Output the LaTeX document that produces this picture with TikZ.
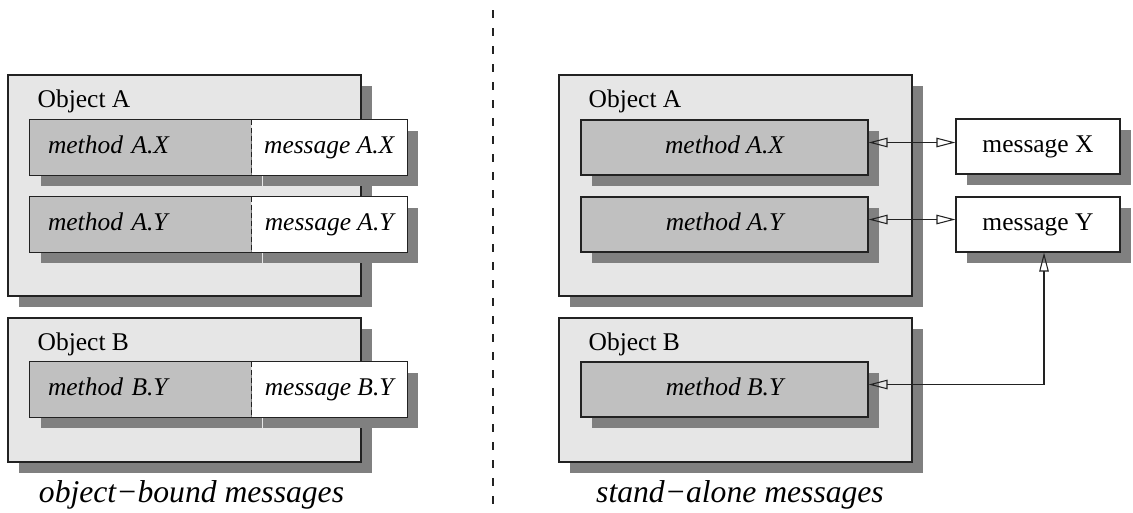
\documentclass[tikz,border=0pt]{standalone}
\usepackage{fontspec}
\setmainfont{Liberation Serif}
\usepackage{xcolor}
\usepackage{tikz}
\usetikzlibrary{calc}
\usetikzlibrary {arrows.meta}
\usetikzlibrary {shadows,positioning}
\definecolor{G0}{HTML}{E6E6E6}
\definecolor{G1}{HTML}{C0C0C0}
\definecolor{G2}{HTML}{808080}
\definecolor{G3}{HTML}{222222}
\newcommand\boxfont{\fontsize{14.5}{17}\selectfont}
\newcommand\capfont{\fontsize{18}{21}\selectfont}
\tikzset{
  dropsh/.style={drop shadow={shadow xshift=0.22cm, shadow yshift=-0.22cm, fill=G2, opacity=1}},
  boxtext/.style={text height=10pt, text depth=3pt},
  objbox/.style={dropsh, draw=G3, fill=G0, line width=0.6pt, minimum width=7.06cm, inner sep=0pt},
  methleft/.style={dropsh, boxtext, fill=G1, minimum height=1.1cm, text width=3.7cm, inner xsep=0.36cm, inner ysep=0pt, align=left, font=\boxfont\itshape},
  msgleft/.style={dropsh, boxtext, fill=white, minimum height=1.1cm, minimum width=3.1cm, inner sep=0pt, font=\boxfont\itshape},
  methright/.style={dropsh, boxtext, draw=G3, fill=G1, line width=0.6pt, minimum height=1.1cm, minimum width=5.74cm, inner sep=0pt, font=\boxfont\itshape},
  msgright/.style={dropsh, boxtext, draw=G3, fill=white, line width=0.6pt, minimum height=1.1cm, minimum width=3.28cm, inner sep=0pt, font=\boxfont},
  tips/.style={{Triangle[open,length=0.38cm,width=0.19cm]}-{Triangle[open,length=0.38cm,width=0.19cm]}, line width=0.6pt, G3},
}

\begin{document}
\begin{tikzpicture}
\useasboundingbox (0,0) rectangle (22.66,-10.24);
%
% left half: every object carries its own messages
\node[objbox, minimum height=4.42cm] (objAL) at (3.69,-3.71) {};
\node[anchor=base west, font=\boxfont] (lblAL) at ($(objAL.north west)+(0.48,-0.66)$) {Object A};
\node[methleft] (lmAX) at (2.81,-2.95) {method A.X};
\node[msgleft, right=0pt of lmAX] (lgAX) {message A.X};
\draw[G3, line width=0.6pt] (lmAX.north west) rectangle (lgAX.south east);
\draw[G3, line width=0.6pt, dash pattern=on 0.1cm off 0.06cm] (lgAX.north west) -- (lgAX.south west);
\node[methleft] (lmAY) at (2.81,-4.49) {method A.Y};
\node[msgleft, right=0pt of lmAY] (lgAY) {message A.Y};
\draw[G3, line width=0.6pt] (lmAY.north west) rectangle (lgAY.south east);
\draw[G3, line width=0.6pt, dash pattern=on 0.1cm off 0.06cm] (lgAY.north west) -- (lgAY.south west);
%
\node[objbox, minimum height=2.88cm] (objBL) at (3.69,-7.8) {};
\node[anchor=base west, font=\boxfont] (lblBL) at ($(objBL.north west)+(0.48,-0.66)$) {Object B};
\node[methleft] (lmBY) at (2.81,-7.79) {method B.Y};
\node[msgleft, right=0pt of lmBY] (lgBY) {message B.Y};
\draw[G3, line width=0.6pt] (lmBY.north west) rectangle (lgBY.south east);
\draw[G3, line width=0.6pt, dash pattern=on 0.1cm off 0.06cm] (lgBY.north west) -- (lgBY.south west);
%
\node[anchor=base, font=\capfont\itshape] (capL) at (3.83,-10.04) {object−bound messages};
%
% separator
\coordinate (sepTop) at (9.86,-0.2);
\coordinate (sepBot) at (9.86,-10.24);
\draw[G3, line width=0.6pt, dash pattern=on 0.16cm off 0.2cm] (sepTop) -- (sepBot);
%
% right half: messages live on their own
\node[objbox, minimum height=4.42cm] (objAR) at (14.71,-3.71) {};
\node[anchor=base west, font=\boxfont] (lblAR) at ($(objAR.north west)+(0.48,-0.66)$) {Object A};
\node[methright] (rmAX) at (14.49,-2.95) {method A.X};
\node[methright] (rmAY) at (14.49,-4.49) {method A.Y};
\node[objbox, minimum height=2.88cm] (objBR) at (14.71,-7.8) {};
\node[anchor=base west, font=\boxfont] (lblBR) at ($(objBR.north west)+(0.48,-0.66)$) {Object B};
\node[methright] (rmBY) at (14.49,-7.79) {method B.Y};
%
\node[msgright] (msgX) at (20.76,-2.93) {message X};
\node[msgright] (msgY) at (20.76,-4.49) {message Y};
%
\draw[tips] ([yshift=0.1cm]rmAX.east) -- ([yshift=0.1cm]rmAX.east -| msgX.west);
\draw[tips] ([yshift=0.1cm]rmAY.east) -- ([yshift=0.1cm]rmAY.east -| msgY.west);
\draw[tips] ([yshift=0.1cm]rmBY.east) -| ([xshift=0.12cm]msgY.south);
%
\node[anchor=base, font=\capfont\itshape] (capR) at (14.8,-10.04) {stand−alone messages};
\end{tikzpicture}
\end{document}
